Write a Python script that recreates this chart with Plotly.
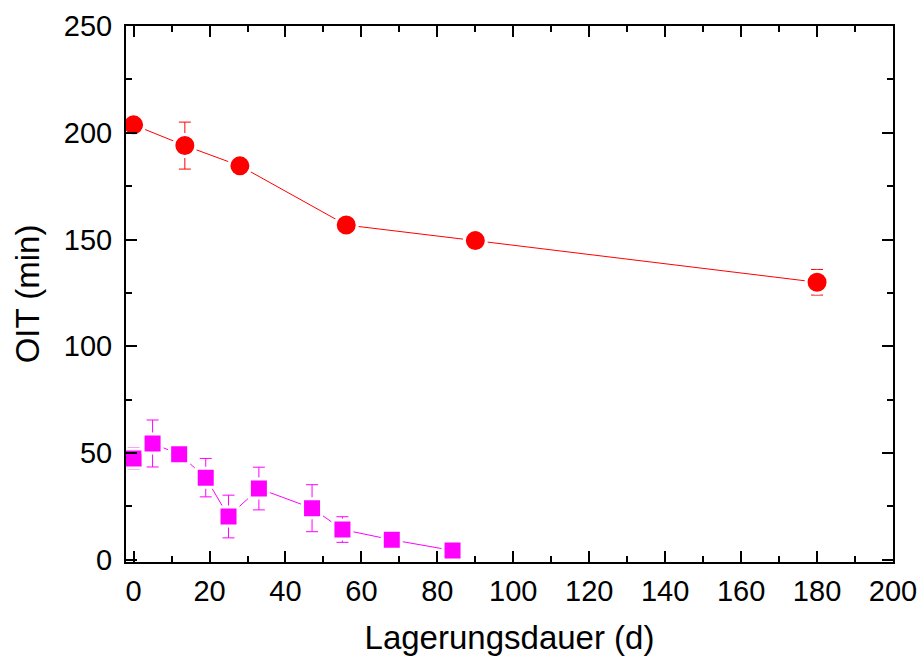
import plotly.graph_objects as go

# Red series (circles)
red_x = [0, 13.5, 28, 56, 90, 180]
red_y = [203.7, 194, 184.5, 156.8, 149.5, 130]
red_err = [2, 11, 1, 3, 2, 6]

# Magenta series (squares)
mag_x = [0, 5, 12, 19, 25, 33, 47, 55, 68, 84]
mag_y = [47.5, 54.5, 49.5, 38.5, 20.3, 33.4, 24.2, 14.2, 9.4, 4.4]
mag_err = [5, 11, 0, 9, 10, 10, 11, 6, 0, 0]

x_ticks = [0, 20, 40, 60, 80, 100, 120, 140, 160, 180, 200]
y_ticks = [0, 50, 100, 150, 200, 250]

FONT = "Liberation Sans, Arial, sans-serif"

fig = go.Figure()
fig.add_trace(go.Scatter(
    x=mag_x, y=mag_y, mode="lines+markers",
    line=dict(color="#FF00FF", width=1),
    marker=dict(symbol="square", size=19, color="#FF00FF",
                line=dict(color="white", width=3)),
    error_y=dict(type="data", array=mag_err, visible=True,
                 color="#FF00FF", thickness=1, width=6),
    showlegend=False))
fig.add_trace(go.Scatter(
    x=red_x, y=red_y, mode="lines+markers",
    line=dict(color="#FF0000", width=1),
    marker=dict(symbol="circle", size=22, color="#FF0000",
                line=dict(color="white", width=3)),
    error_y=dict(type="data", array=red_err, visible=True,
                 color="#FF0000", thickness=1, width=6),
    showlegend=False))

axis_common = dict(
    showline=True, linecolor="black", linewidth=2, mirror="allticks",
    ticks="inside", ticklen=11, tickwidth=2, tickcolor="black",
    showgrid=False, zeroline=False, automargin=False,
    tickfont=dict(family=FONT, size=29, color="black"),
)

fig.update_xaxes(
    range=[-2, 200], tickvals=x_ticks, ticktext=[str(v) for v in x_ticks],
    minor=dict(dtick=10, tick0=0, ticks="inside", ticklen=6, tickwidth=2, tickcolor="black"),
    title=dict(text="Lagerungsdauer (d)", standoff=20,
               font=dict(family=FONT, size=33, color="black")),
    ticklabelstandoff=2,
    **axis_common)
fig.update_yaxes(
    range=[-1, 250], tickvals=y_ticks, ticktext=[str(v) for v in y_ticks],
    minor=dict(dtick=25, tick0=0, ticks="inside", ticklen=6, tickwidth=2, tickcolor="black"),
    title=dict(text="OIT (min)", standoff=14,
               font=dict(family=FONT, size=33, color="black")),
    ticklabelstandoff=6,
    **axis_common)

fig.update_layout(
    width=920, height=659,
    margin=dict(l=126, r=27, t=26, b=97),
    plot_bgcolor="white", paper_bgcolor="white",
)

fig.write_html(
    "out.html",
    config={"displayModeBar": False},
    post_script="document.body.style.margin='0';document.body.style.overflow='hidden';",
)
